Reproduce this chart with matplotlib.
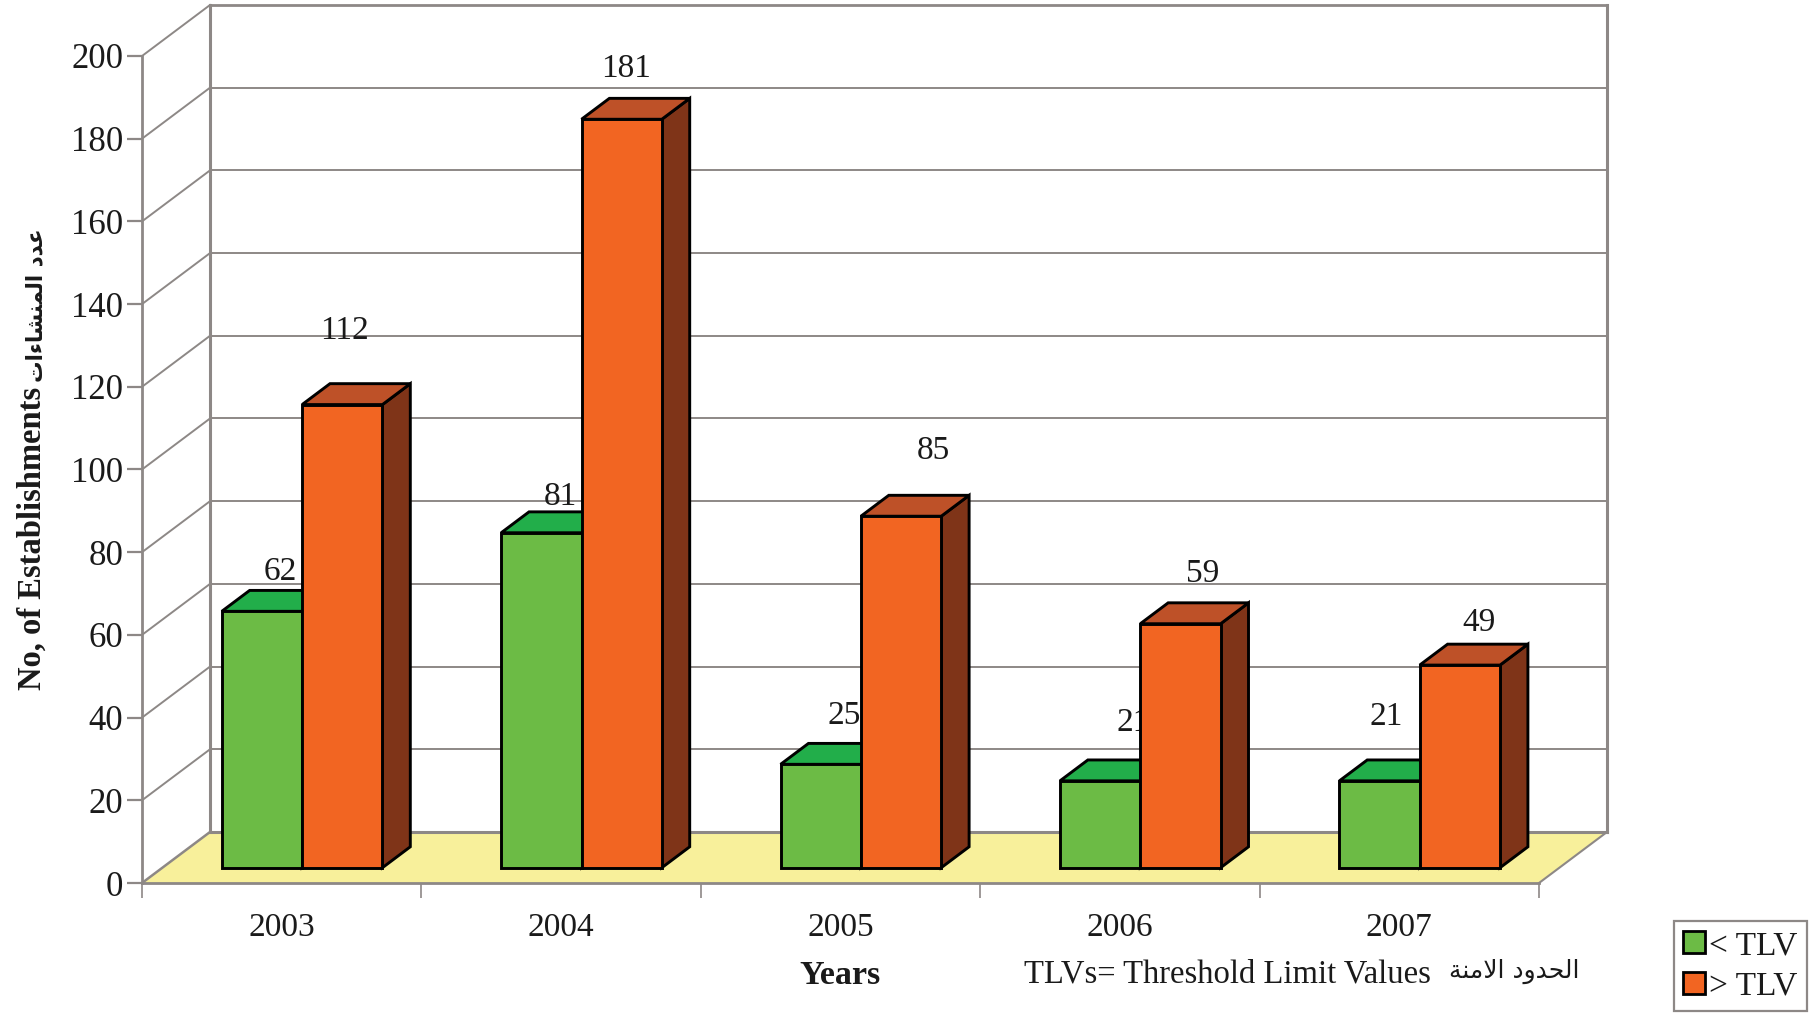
import matplotlib
matplotlib.use("Agg")
import matplotlib.pyplot as plt
from matplotlib.patches import Polygon, Patch

years = ["2003", "2004", "2005", "2006", "2007"]
below_tlv = [62, 81, 25, 21, 21]
above_tlv = [112, 181, 85, 59, 49]
y_ticks = list(range(0, 201, 20))
series_names = ["< TLV", "> TLV"]

# Arabic text in shaped presentation forms, laid out left to right for drawing
ar_establishments = "\uFE95\uFE8D\uFE80\uFE8E\uFEB8\uFEE8\uFEE4\uFEDF\uFE8D \uFEA9\uFEAA\uFECB"  # عدد المنشاءات
ar_limits = "\uFE94\uFEE8\uFEE3\uFEFB\uFE8D \uFEA9\uFEED\uFEAA\uFEA4\uFEDF\uFE8D"  # الحدود الامنة

W, H = 1809, 1013
SERIF = "Liberation Serif"
GRID = "#8d8886"
fig = plt.figure(figsize=(W / 100, H / 100), dpi=100, facecolor="white")
X0, X1, Y0, Y200 = 142, 1539, 883, 56
ax = fig.add_axes([X0 / W, 1 - Y0 / H, (X1 - X0) / W, (Y0 - Y200) / H])
ax.set_xlim(0, 5)
ax.set_ylim(0, 200)
ax.patch.set_visible(False)
for s in ("top", "right"):
    ax.spines[s].set_visible(False)
for s in ("left", "bottom"):
    ax.spines[s].set_color(GRID)
    ax.spines[s].set_linewidth(2.0)
    ax.spines[s].set_zorder(2)

px_x = 5 / (X1 - X0)
px_y = 200 / (Y0 - Y200)
DX = 68 * px_x
DY = 51 * px_y

# y axis
ax.set_yticks(y_ticks)
ax.set_yticklabels([str(v) for v in y_ticks], family=SERIF, fontsize=25, color="#1a1a1a")
ax.tick_params(axis="y", length=10.8, width=1.6, color=GRID, pad=2.8)
# x axis
ax.set_xticks(range(6))
ax.set_xticklabels([])
ax.tick_params(axis="x", which="major", length=10.8, width=1.2, color=GRID)
ax.set_xticks([i + 0.5 for i in range(5)], minor=True)
ax.set_xticklabels(years, minor=True, family=SERIF, fontsize=24, color="#1a1a1a")
ax.tick_params(axis="x", which="minor", length=0, pad=21.5)

# floor
ax.add_patch(Polygon([(0, 0), (5, 0), (5 + DX, DY), (DX, DY)], closed=True, fc="#F8F09B",
                     ec="none", zorder=1, clip_on=False))
ax.plot([DX, 5 + DX], [DY, DY], color=GRID, lw=2.2, zorder=1.2, clip_on=False)
ax.plot([0, DX], [0, DY], color=GRID, lw=1.8, zorder=1.2, clip_on=False)
ax.plot([5, 5 + DX], [0, DY], color=GRID, lw=1.5, zorder=1.2, clip_on=False)

# walls and grid
for v in y_ticks[1:]:
    lw = 2.0 if v == 200 else 1.4
    ax.plot([DX, 5 + DX], [v + DY, v + DY], color=GRID, lw=lw, zorder=1.1, clip_on=False)
    ax.plot([0, DX], [v, v + DY], color=GRID, lw=1.4, zorder=1.1, clip_on=False)
for xw in (DX, 5 + DX):
    ax.plot([xw, xw], [DY, 200 + DY], color=GRID, lw=2.2, zorder=1.3, clip_on=False)

# bars
BAR_W = 0.2875
FRONT, DEPTH = 0.30, 0.41
fx, fy = DX * FRONT, DY * FRONT
dx, dy = DX * DEPTH, DY * DEPTH
EDGE = dict(ec="black", lw=2.1, joinstyle="miter", clip_on=False)


def bar3d(left, value, face, top, side, z):
    l, r = left + fx, left + BAR_W + fx
    b, t = fy, value + fy
    ax.add_patch(Polygon([(r, b), (r + dx, b + dy), (r + dx, t + dy), (r, t)], fc=side, zorder=z, **EDGE))
    ax.add_patch(Polygon([(l, t), (r, t), (r + dx, t + dy), (l + dx, t + dy)], fc=top, zorder=z, **EDGE))
    ax.add_patch(Polygon([(l, b), (r, b), (r, t), (l, t)], fc=face, zorder=z + 0.1, **EDGE))
    return (l + r) / 2, t


label_shift_low = [(18, 40), (19, 36), (23, 49), (33, 58), (7, 64)]
label_shift_high = [(2, 74), (4, 51), (32, 65), (22, 50), (19, 42)]
for i in range(5):
    left = i + 0.5 - BAR_W
    cx, t = bar3d(left, below_tlv[i], "#6CBB45", "#22AE4A", "#15803a", 5)
    ax.annotate(str(below_tlv[i]), (cx, t), xytext=label_shift_low[i], textcoords="offset pixels",
                ha="center", va="center", family=SERIF, fontsize=24, color="#1a1a1a", zorder=3,
                annotation_clip=False)
    cx, t = bar3d(i + 0.5, above_tlv[i], "#F26522", "#BE5128", "#7F3418", 6)
    ax.annotate(str(above_tlv[i]), (cx, t), xytext=label_shift_high[i], textcoords="offset pixels",
                ha="center", va="center", family=SERIF, fontsize=24, color="#1a1a1a", zorder=3,
                annotation_clip=False)


def ftext(x, y, s, **kw):
    fig.text(x / W, 1 - y / H, s, ha="center", va="center", color="#1a1a1a", **kw)


ftext(840, 975, "Years", family=SERIF, fontsize=24.5, fontweight="bold")
ftext(1227, 974, "TLVs= Threshold Limit Values", family=SERIF, fontsize=23.5)
ftext(1514, 971, ar_limits, family="DejaVu Sans", fontsize=18)
ftext(32, 538, "No, of Establishments", family=SERIF, fontsize=23.5, fontweight="bold", rotation=90)
ftext(36, 305, ar_establishments, family="DejaVu Sans", fontsize=15.5, fontweight="bold", rotation=90)

handles = [Patch(fc="#6CBB45", ec="black", lw=2.0), Patch(fc="#F26522", ec="black", lw=2.0)]
leg = fig.legend(handles, series_names, loc="lower right", bbox_to_anchor=(1807 / W, 1 - 1011 / H),
                 borderaxespad=0, fancybox=False, framealpha=1, edgecolor=GRID,
                 prop={"family": SERIF, "size": 24}, handlelength=0.66, handleheight=0.64,
                 handletextpad=0.12, labelspacing=0.3, borderpad=0.28)
leg.get_frame().set_linewidth(1.6)
for t in leg.get_texts():
    t.set_color("#1a1a1a")

fig.savefig("out.png", dpi=100, facecolor="white")
